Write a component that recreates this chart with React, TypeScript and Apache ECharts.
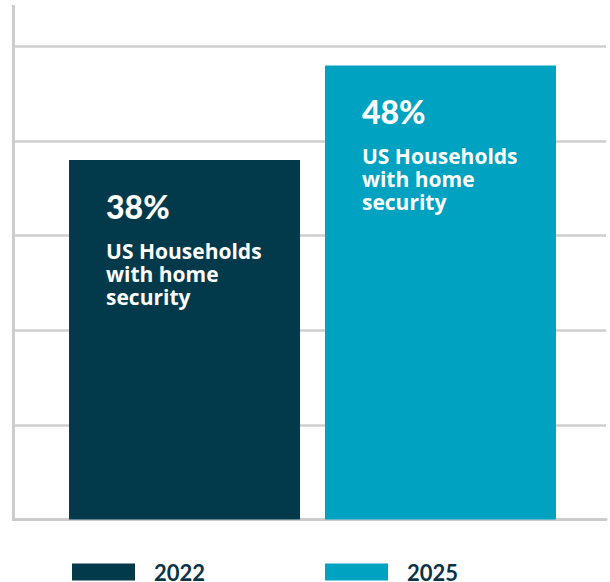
import React, { useEffect, useRef } from "react";
import * as echarts from "echarts";

const categories = ["US Households with home security"];
const seriesNames = ["2022", "2025"];
const values2022 = [38];
const values2025 = [48];
const yTicks = [0, 10, 20, 30, 40, 50];

const COLORS = ["#023a4c", "#00a2c2"];
const FONT_BIG = "Lato, sans-serif";
const FONT_BODY = "'Open Sans', sans-serif";

export default function App() {
  const ref = useRef<HTMLDivElement>(null);
  useEffect(() => {
    if (!ref.current) return;
    const chart = echarts.init(ref.current, undefined, { renderer: "svg" });
    const label = {
      show: true,
      position: [37, 13],
      color: "#ffffff",
      formatter: (p: any) =>
        `{a|${p.value}%}\n{b|US Households}\n{b|with home}\n{b|security}`,
      rich: {
        a: { fontSize: 32, fontWeight: 900, lineHeight: 66, color: "#fff", fontFamily: FONT_BIG },
        b: { fontSize: 21, fontWeight: 700, lineHeight: 23, color: "#fff", fontFamily: FONT_BODY },
      },
    };
    const legendText = {
      fontSize: 22,
      fontWeight: 700,
      lineHeight: 18,
      color: "#0b3446",
      fontFamily: FONT_BIG,
      padding: [0, 0, 0, 14],
    };
    chart.setOption({
      animation: false,
      grid: [
        { left: 13.5, right: 4, top: 46.5, bottom: 62.5 },
        { left: 15, right: 0, top: 46.5, bottom: 62.5 },
      ],
      xAxis: [
        {
          type: "category",
          gridIndex: 0,
          data: categories,
          axisLine: { show: true, lineStyle: { color: "#cccccc", width: 3 } },
          axisTick: { show: false },
          axisLabel: { show: false },
        },
        {
          type: "category",
          gridIndex: 1,
          data: categories,
          axisLine: { show: false },
          axisTick: { show: false },
          axisLabel: { show: false },
        },
      ],
      yAxis: [
        {
          type: "value",
          gridIndex: 0,
          min: yTicks[0],
          max: yTicks[yTicks.length - 1],
          interval: 10,
          axisLine: { show: false },
          axisTick: { show: false },
          axisLabel: { show: false },
          splitLine: { show: true, lineStyle: { color: "#cfcfcf", width: 2.5 } },
        },
        {
          type: "value",
          gridIndex: 1,
          min: yTicks[0],
          max: yTicks[yTicks.length - 1],
          interval: 10,
          axisLine: { show: false },
          axisTick: { show: false },
          axisLabel: { show: false },
          splitLine: { show: false },
        },
      ],
      legend: [
        {
          data: [seriesNames[0]],
          left: 67,
          top: 556,
          itemWidth: 63,
          itemHeight: 17,
          icon: "rect",
          textStyle: legendText,
        },
        {
          data: [seriesNames[1]],
          left: 320,
          top: 556,
          itemWidth: 63,
          itemHeight: 17,
          icon: "rect",
          textStyle: legendText,
        },
      ],
      graphic: [
        {
          type: "line",
          shape: { x1: 13.5, y1: 5, x2: 13.5, y2: 521 },
          style: { stroke: "#cccccc", lineWidth: 3 },
          z: 1,
        },
      ],
      series: [
        {
          name: seriesNames[0],
          type: "bar",
          xAxisIndex: 1,
          yAxisIndex: 1,
          data: values2022,
          barWidth: 231,
          barGap: "10.8%",
          itemStyle: { color: COLORS[0] },
          label,
        },
        {
          name: seriesNames[1],
          type: "bar",
          xAxisIndex: 1,
          yAxisIndex: 1,
          data: values2025,
          barWidth: 231,
          barGap: "10.8%",
          itemStyle: { color: COLORS[1] },
          label,
        },
      ],
    });
    return () => chart.dispose();
  }, []);
  return (
    <div
      ref={ref}
      style={{ position: "absolute", left: 0, top: 0, width: 610, height: 582 }}
    />
  );
}
